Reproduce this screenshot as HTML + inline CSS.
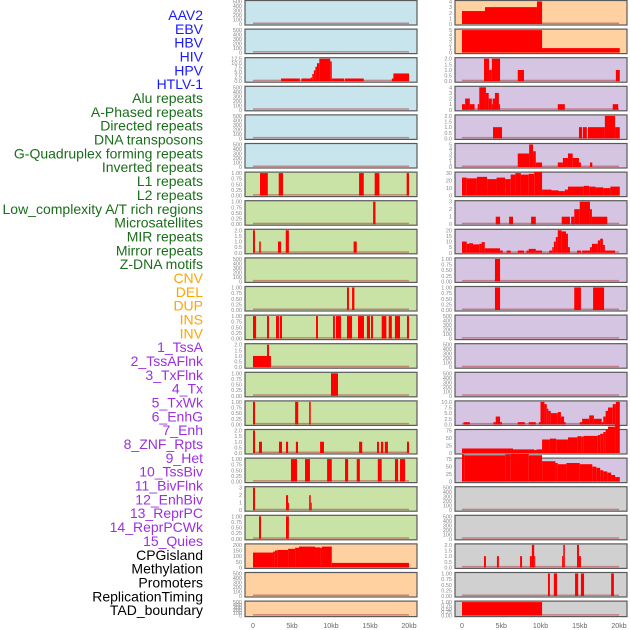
<!DOCTYPE html>
<html><head><meta charset="utf-8"><style>
body{margin:0;background:#fff;width:630px;height:630px;overflow:hidden}
svg{display:block}
</style></head><body>
<svg id="c" width="630" height="630" xmlns="http://www.w3.org/2000/svg"></svg>
<script>
const labels=["AAV2","EBV","HBV","HIV","HPV","HTLV-1","Alu repeats","A-Phased repeats","Directed repeats","DNA transposons","G-Quadruplex forming repeats","Inverted repeats","L1 repeats","L2 repeats","Low_complexity A/T rich regions","Microsatellites","MIR repeats","Mirror repeats","Z-DNA motifs","CNV","DEL","DUP","INS","INV","1_TssA","2_TssAFlnk","3_TxFlnk","4_Tx","5_TxWk","6_EnhG","7_Enh","8_ZNF_Rpts","9_Het","10_TssBiv","11_BivFlnk","12_EnhBiv","13_ReprPC","14_ReprPCWk","15_Quies","CPGisland","Methylation","Promoters","ReplicationTiming","TAD_boundary"];
const labelColors=[...Array(6).fill("#1a1aff"),...Array(13).fill("#1a6e1a"),...Array(5).fill("#ffa500"),...Array(15).fill("#9b30e0"),...Array(5).fill("#000")];
const xTicks=[0,5,10,15,20];
const xTickLabels=["0","5kb","10kb","15kb","20kb"];
const E500=[0,100,200,300,400,500],T1=[0,0.25,0.5,0.75,1.0],T2=[0,0.5,1.0,1.5,2.0];
const leftTicks=[E500,E500,[0,2.5,5,7.5,10,12.5],E500,E500,E500,T1,T1,T2,E500,T1,T1,T2,T1,T1,T2,T1,[0,1,2,3],T1,[0,50,100,150,200],E500,E500];
const rightTicks=[[0,1,2,3,4],[0,1,2,3,4,5],T2,[0,1,2,3,4],T2,[0,1,2,3,4,5],[0,10,20,30],[0,1,2,3],[0,5,10,15,20],T1,T1,E500,E500,E500,[0,2.5,5,7.5,10],[0,25,50,75],[0,25,50,75],E500,E500,T2,T1,T1];
const leftSegs=[[],[],
[[3.6,6.0,1.5],[6.2,7.4,1.5],[7.4,7.6,2],[7.6,7.8,4],[7.8,8.0,6],[8.0,8.2,8],[8.2,8.5,10],[8.5,9.9,12.5],[9.9,10.1,11],[10.1,11.7,1.5],[11.8,14.2,1.5],[17.8,18.0,1.5],[18.0,20.0,4.3]],
[],[],[],
[[0.9,1.9,1],[3.3,3.85,1],[13.6,14.2,1],[15.6,16.2,1],[19.7,20,1]],
[[15.4,15.7,1]],
[[0,0.25,2],[0.8,1.0,1],[3.2,3.6,1],[4.2,4.6,2],[12.9,13.3,1]],
[],
[[12.05,12.3,1],[12.7,13.0,1]],
[[0,0.4,1],[1.8,2.05,1],[2.95,3.33,1],[3.46,3.72,1],[8.08,8.33,1],[10.26,10.5,1],[10.64,11.28,1],[12.05,12.7,1],[13.46,14.23,1],[14.6,15.0,1],[15.13,15.38,1],[16.5,17.1,1],[17.4,17.8,1],[18.2,18.85,1],[19.74,20,1]],
[[0,2.3,1],[1.8,2.05,2]],
[[10.0,10.9,1]],
[[0,0.26,1],[5.4,5.8,1],[7.2,7.4,1]],
[[0,0.26,2],[0.77,1.15,1],[3.33,3.72,1],[4.23,4.5,1],[5.5,5.77,1],[8.6,9.1,1],[13.6,14.0,1],[15.9,16.15,1],[16.4,16.7,1],[16.9,17.3,1],[19.74,20,1]],
[[4.87,5.64,1],[6.67,7.3,1],[9.5,10.1,1],[11.8,12.2,1],[13.3,13.7,1],[16.0,16.5,1],[18.2,18.6,1],[18.85,19.5,1]],
[[0,0.26,3],[4.23,4.5,2],[4.5,4.6,1],[7.2,7.4,2],[7.4,7.5,1]],
[[0.77,1.03,1],[4.23,4.6,1]],
[[0,2.56,132],[2.56,2.8,140],[2.8,3.1,150],[3.1,4.5,155],[4.5,5.4,165],[5.4,5.9,175],[5.9,7.95,185],[7.95,8.6,178],[8.6,8.85,175],[8.85,10.1,185],[10.1,20,40]],
[],[]];
const rightSegs=[
[[0,2.93,2.3],[2.93,9.55,3],[9.55,10.2,4]],
[[0,10.2,5],[10.2,20.1,1]],
[[2.8,3.45,2],[3.45,3.8,1],[3.8,4.85,2],[7.1,7.9,1],[19.6,20.1,1]],
[[0,0.4,1],[0.4,1.0,2],[1.0,1.6,1],[2.0,2.2,1],[2.2,3.05,4],[3.05,3.4,3],[3.4,3.8,2],[3.8,3.9,1],[3.9,4.2,2],[4.2,4.7,3],[4.7,4.85,1],[12.2,13.1,1],[19.2,19.9,1]],
[[3.95,5.1,1],[14.9,15.3,1],[15.4,15.9,1],[16.05,18.2,1],[18.2,19.5,2],[19.5,20.1,1]],
[[7.1,8.55,3],[8.55,9.05,5],[9.05,9.4,3.5],[9.4,10.2,1],[12.2,12.85,1],[12.85,13.5,2],[13.5,14.1,3],[14.1,14.9,2],[14.9,15.15,1],[16.3,16.6,1]],
[[0,0.6,24],[0.6,1.9,23],[1.9,3.2,25],[3.2,4.4,22],[4.4,5.5,24],[5.5,6.2,22],[6.2,6.8,28],[6.8,7.5,30],[7.5,8.5,28],[8.5,9.2,29],[9.2,10.2,32],[10.2,11.4,8],[11.4,12.3,7],[12.3,13.1,6],[13.1,13.5,8],[13.5,15.5,12],[15.5,16.2,13],[16.2,17,12],[17,18.0,11],[18,18.9,10],[18.9,20.1,12]],
[[4.3,4.85,1],[6.0,6.5,1],[8.8,9.4,1],[12.7,13.75,1],[13.9,14.3,1],[14.3,15.0,2],[15.0,16.3,3],[16.3,16.55,2],[16.55,18.5,1]],
[[0,0.6,10],[0.6,0.9,8],[0.9,1.4,8.5],[1.4,2.2,7.5],[2.2,2.5,8],[2.5,2.9,9.5],[2.9,4.85,4],[4.85,5.2,2],[5.7,6.2,2],[7.1,7.9,2],[8.2,8.5,2],[8.5,9.4,3.5],[9.4,10.2,2],[11.1,11.5,2],[11.5,11.7,5],[11.7,11.95,10],[11.95,12.2,14],[12.2,12.7,20],[12.7,13.25,19],[13.25,13.5,17],[13.5,13.75,5],[14.65,15.15,2],[15.3,16.3,2],[16.3,16.55,5],[16.55,17.3,8],[17.3,17.6,11],[17.6,17.95,12.5],[17.95,18.2,7],[18.2,19.5,2]],
[[4.2,4.85,1]],
[[4.2,4.85,1],[14.3,15.15,1],[16.7,18.1,1]],
[],[],[],
[[0.2,1.0,1],[4.0,4.3,1],[4.3,4.85,3.5],[4.85,5.1,1],[7.1,8.0,1],[8.5,9.4,1],[9.8,10.0,1],[10.0,10.5,10],[10.5,10.8,9],[10.8,11.0,7],[11.0,11.3,6],[11.3,12.2,5],[12.2,12.6,5.5],[12.6,13.0,3.5],[13.0,13.2,1],[15.0,15.3,1],[15.3,16.2,2.5],[16.2,16.8,4],[16.8,17.8,2.5],[17.8,18.0,1],[18.0,18.3,3.5],[18.3,18.6,6],[18.6,19.2,7.5],[19.2,19.6,9],[19.6,20.1,10]],
[[0,6.5,15],[6.5,9.2,12],[9.2,9.5,10],[9.5,10.2,12],[10.2,11.2,45],[11.2,12.0,48],[12.0,13.5,45],[13.5,14.7,52],[14.7,15.2,56],[15.2,15.5,55],[15.5,17.3,57],[17.3,17.6,60],[17.6,18.0,64],[18.0,18.3,70],[18.3,18.6,78],[18.6,19.5,88],[19.5,20.1,96]],
[[0,0.3,90],[0.3,5.5,88],[5.5,6.2,90],[6.2,8.5,92],[8.5,10.2,88],[10.2,11.9,68],[11.9,12.2,62],[12.2,13.3,58],[13.3,15.0,62],[15.0,16.6,58],[16.6,17.1,50],[17.1,17.6,46],[17.6,18.0,38],[18.0,18.5,34],[18.5,19.0,30],[19.0,19.5,22],[19.5,20.1,15]],
[],[],
[[2.8,3.05,1],[4.45,4.7,1],[7.4,7.65,1],[8.65,8.9,1],[8.9,9.2,2],[9.2,9.3,1],[12.75,12.9,1],[12.9,13.1,2],[14.65,14.9,2],[14.9,15.15,1]],
[[10.95,11.2,1],[11.7,12.1,1],[14.4,14.8,1],[15.15,15.55,1],[19.0,19.35,1]],
[[0,10.2,1]]];
const BLUE="#c8e4ec",GREEN="#c9e2a6",ORANGE="#ffd1a1",PURPLE="#d6c5e2",GRAY="#d0d0d0";
const leftBg=[...Array(6).fill(BLUE),...Array(13).fill(GREEN),...Array(3).fill(ORANGE)];
const rightBg=[ORANGE,ORANGE,...Array(15).fill(PURPLE),...Array(5).fill(GRAY)];

const NS="http://www.w3.org/2000/svg";
const svg=document.getElementById("c");
function mk(t,a){const e=document.createElementNS(NS,t);for(const k in a)e.setAttribute(k,a[k]);svg.appendChild(e);return e;}

labels.forEach((l,i)=>{
  const t=mk("text",{x:203,y:15+i*13.84+5,"text-anchor":"end","font-family":"Liberation Sans, sans-serif","font-size":"14",fill:labelColors[i]});
  t.textContent=l;
  
  
});

function fmt(v,ticks){
  if(ticks[1]===0.25) return v.toFixed(2);
  if(ticks[1]===0.5||ticks[1]===2.5) return v.toFixed(1);
  return String(v);
}
function drawCol(px,x0,x1,ticksArr,segsArr,bgArr,side){
  const xs=k=>x0+(x1-x0)*k/20;
  for(let r=0;r<22;r++){
    const top=0.5+r*28.6, h=(r===21)?15.5:24.5;
    const rect=mk("rect",{x:px,y:top,width:172,height:h,fill:bgArr[r],stroke:"#5a5a5a","stroke-width":1.2});
    
    
    const ticks=ticksArr[r], ymax=ticks[ticks.length-1];
    const yb=top+h-1, yt=top+1;
    const ys=v=>yb-(yb-yt)*v/ymax;
    ticks.forEach(v=>{
      const t=mk("text",{x:px-3,y:ys(v)+2,"text-anchor":"end","font-family":"Liberation Sans, sans-serif","font-size":"5.5",fill:"#888"});
      t.textContent=fmt(v,ticks);
      
      
    });
    const base=mk("rect",{x:xs(0),y:yb-1.5,width:xs(20)-xs(0),height:1.5,fill:"#b04040",opacity:0.55});
    
    
    segsArr[r].forEach(s=>{
      const b=mk("rect",{x:xs(s[0]),y:ys(s[2]),width:Math.max(xs(s[1])-xs(s[0]),1),height:yb-ys(s[2]),fill:"#ff0000"});
      
      
    });
  }
  xTicks.forEach((k,i)=>{
    const t=mk("text",{x:xs(k),y:628,"text-anchor":"middle","font-family":"Liberation Sans, sans-serif","font-size":"7",fill:"#666"});
    t.textContent=xTickLabels[i];
    
    
  });
}
drawCol(245,253,409,leftTicks,leftSegs,leftBg,"left");
drawCol(455,462,619,rightTicks,rightSegs,rightBg,"right");
</script>
</body></html>
